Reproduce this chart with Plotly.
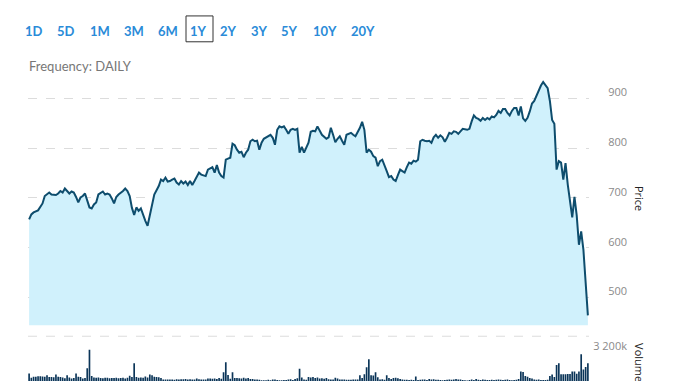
import plotly.graph_objects as go

# ---------------- data ----------------
price_days = [0,1,2,4,6,7,9,10,12,13,14,15,16,18,19,20,21,22,23,24,25,26,27,28,29,30,31,33,34,35,36,37,38,39,40,
              42,43,44,45,46,47,48,49,50,51,52,53,54,55,56,58,59,60,61,62,63,64,65,66,67,68,69,70,71,72,73,74,
              75,76,77,79,80,82,83,84,85,86,87,88,89,90,91,92,93,94,95,96,97,98,99,100,101,102,103,104,105,106,
              108,109,110,111,112,113,114,115,116,117,118,119,120,121,122,123,124,125,126,127,128,129,131,132,
              133,134,135,136,137,138,139,140,141,142,143,144,145,146,148,149,150,151,152,153,154,155,156,157,
              158,159,160,161,162,163,164,165,166,167,168,169,170,171,172,173,174,175,176,177,178,179,180,181,
              182,183,184,185,186,187,188,189,190,191,192,193,194,196,197,198,199,200,201,202,203,204,205,206,
              207,208,209,210,211,212,213,214,215,216,217,218,219,220,221,222,223,224,225,226,227,228,229,230,
              231,232,233,234,235,236,237,238,239,240,241,242,243,244,245,246,247,248,249,250]
price = [657,667,671,675,689,704,711,707,706,709,714,711,719,709,713,711,702,691,701,704,709,694,681,679,687,691,707,713,707,709,707,
         699,689,702,707,714,719,714,704,680,666,681,674,679,664,654,644,664,684,707,724,737,734,741,733,734,737,739,731,727,734,
         729,733,726,734,726,734,744,751,747,744,757,762,751,766,751,744,741,777,779,781,809,806,797,791,793,782,791,797,814,817,
         814,815,797,811,819,822,827,821,807,837,844,842,844,837,829,837,839,837,839,791,803,791,801,811,833,835,834,844,827,822,
         819,822,841,827,812,819,824,815,807,827,829,831,827,824,841,853,837,791,797,793,784,781,764,774,777,767,754,742,744,737,
         734,746,757,754,751,762,771,769,775,773,777,814,817,815,814,815,811,822,827,821,826,822,813,821,831,829,834,833,829,834,
         839,837,839,854,866,861,859,855,861,857,861,858,864,862,867,875,871,879,879,871,866,875,881,881,866,884,860,855,861,874,
         890,895,906,917,926,933,927,921,895,857,849,757,774,771,737,770,727,694,661,702,665,606,633,596,530,464]

volume_days = list(range(251))
volume_k = [760,330,440,440,470,470,450,430,580,400,
            400,380,650,420,400,350,280,580,350,250,
            300,760,420,400,250,300,1270,3130,510,350,
            330,350,300,280,330,320,280,310,300,330,
            280,300,330,250,320,520,400,1780,400,330,
            350,330,450,350,650,570,420,400,380,300,
            150,150,150,140,150,130,180,150,170,180,
            200,160,170,150,160,250,180,150,150,160,
            250,240,220,260,200,300,230,870,1890,600,
            220,870,300,300,280,260,320,240,300,200,
            200,150,160,130,80,80,80,120,80,150,
            150,100,80,80,100,110,150,180,100,200,
            280,1240,350,150,120,400,350,400,300,350,
            250,280,220,300,180,160,150,330,260,160,
            150,160,130,130,120,140,150,160,580,300,
            680,1380,2180,580,550,870,380,150,180,120,
            580,300,200,300,320,280,200,150,130,130,
            110,120,110,450,110,120,160,140,110,200,
            150,180,130,120,110,80,110,130,160,120,
            150,200,150,140,100,80,60,100,150,100,
            200,120,110,150,120,100,110,130,100,120,
            150,130,110,120,150,100,80,100,120,200,
            950,900,500,420,300,250,150,120,140,110,
            110,100,120,500,650,400,1600,1780,690,690,
            690,700,700,950,950,720,960,2690,1160,1420,
            1780]

range_buttons = ["1D", "5D", "1M", "3M", "6M", "1Y", "2Y", "3Y", "5Y", "10Y", "20Y"]
selected_button = "1Y"
price_ticks = [500, 600, 700, 800, 900]
volume_ticks = [3200]
volume_tick_text = ["3 200k"]

# ---------------- figure ----------------
W, H = 678, 381
def px(x):
    return x / W
def py(y):
    return 1 - y / H

fig = go.Figure()
fig.add_trace(go.Scatter(
    x=price_days, y=price, mode="lines",
    line=dict(color="#0e4d6d", width=2),
    fill="tozeroy", fillcolor="#d0f1fc",
    xaxis="x", yaxis="y", hoverinfo="skip", showlegend=False))
fig.add_trace(go.Bar(
    x=volume_days, y=volume_k, marker=dict(color="#0b3558", line=dict(width=0)),
    xaxis="x", yaxis="y2", showlegend=False, hoverinfo="skip"))

fig.update_layout(
    width=W, height=H, margin=dict(l=0, r=0, t=0, b=0),
    paper_bgcolor="white", plot_bgcolor="white",
    bargap=0.25,
    xaxis=dict(domain=[px(28), px(589)], range=[-0.5, 250.5], showgrid=False,
               zeroline=False, showticklabels=False, showline=False),
    yaxis=dict(domain=[py(325), py(70)], range=[444, 954], side="right",
               tickvals=price_ticks, showgrid=True, gridcolor="#dcdcdc",
               griddash="dash", gridwidth=1, zeroline=False, showline=False,
               ticks="outside", ticklen=16, tickcolor="rgba(0,0,0,0)",
               ticklabelshift=-6,
               tickfont=dict(family="Open Sans", size=11, color="#8a8a8a")),
    yaxis2=dict(domain=[0, py(340)], range=[0, 4100], side="right", anchor="x",
                tickvals=volume_ticks, ticktext=volume_tick_text, showgrid=False,
                zeroline=False, showline=False,
                ticks="outside", ticklen=1, tickcolor="rgba(0,0,0,0)",
                ticklabelshift=-3,
                tickfont=dict(family="Open Sans", size=11, color="#8a8a8a")),
)

# dashed separator line above volume pane
fig.add_shape(type="line", xref="paper", yref="paper", x0=px(28), x1=px(589),
              y0=py(336), y1=py(336), line=dict(color="#dcdcdc", width=1, dash="dash"))

# range buttons
btn_x = [34, 66, 100, 134, 168, 199, 228, 259, 289, 325, 363]
for label, bx in zip(range_buttons, btn_x):
    fig.add_annotation(text=label, x=px(bx), y=py(29), xref="paper", yref="paper",
                       showarrow=False, xanchor="center", yanchor="middle",
                       font=dict(family="Lato", size=13, color="#2a8bd8", weight="bold"))
    if label == selected_button:
        fig.add_shape(type="rect", xref="paper", yref="paper",
                      x0=px(bx - 13), x1=px(bx + 14), y0=py(40), y1=py(14),
                      line=dict(color="#333333", width=1))

fig.add_annotation(text="Frequency: DAILY", x=px(27), y=py(64), xref="paper", yref="paper",
                   showarrow=False, xanchor="left", yanchor="middle",
                   font=dict(family="Lato", size=13, color="#777777"))
fig.add_annotation(text="Price", x=px(639), y=py(197), xref="paper", yref="paper",
                   showarrow=False, textangle=90, xanchor="center", yanchor="middle",
                   font=dict(family="Open Sans", size=11, color="#222222"))
fig.add_annotation(text="Volume", x=px(640), y=py(362), xref="paper", yref="paper",
                   showarrow=False, textangle=90, xanchor="center", yanchor="middle",
                   font=dict(family="Open Sans", size=11, color="#222222"))

fig.write_html("out.html", config={"displayModeBar": False, "staticPlot": True},
               post_script="document.body.style.margin='0';document.body.style.overflow='hidden';")
